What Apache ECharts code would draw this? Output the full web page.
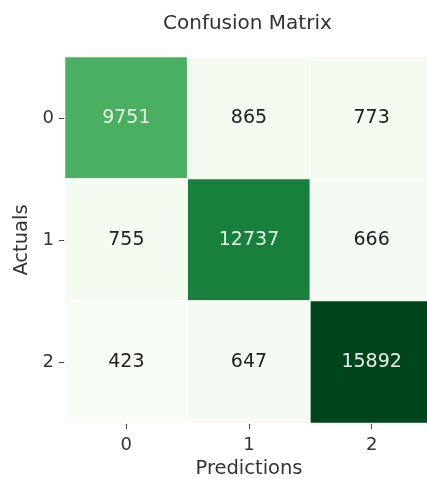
<!DOCTYPE html>
<html>
<head>
<meta charset="utf-8">
<script src="https://cdn.jsdelivr.net/npm/echarts@6/dist/echarts.min.js"></script>
<style>
  html, body { margin: 0; padding: 0; background: #ffffff; }
  #chart { width: 427px; height: 484px; }
</style>
</head>
<body>
<div id="chart"></div>
<script>
// Class labels for predicted (columns) and actual (rows) classes
const predictedLabels = ['0', '1', '2'];
const actualLabels = ['0', '1', '2'];

// Counts per actual class, listed by predicted class
const actual0 = [9751, 865, 773];
const actual1 = [755, 12737, 666];
const actual2 = [423, 647, 15892];

// Sequential green palette for the cell colours
const greens = ['#f7fcf5', '#e5f5e0', '#c7e9c0', '#a1d99b', '#74c476',
                '#41ab5d', '#238b45', '#006d2c', '#00441b'];

const rows = [actual0, actual1, actual2];
const cells = [];
rows.forEach((row, r) => row.forEach((v, c) => cells.push([c, r, v])));
const all = rows.flat();
const vMin = Math.min(...all);
const vMax = Math.max(...all);
const mid = (vMin + vMax) / 2;

const font = 'DejaVu Sans';
const chart = echarts.init(document.getElementById('chart'), null, { renderer: 'canvas' });

chart.setOption({
  backgroundColor: '#ffffff',
  animation: false,
  title: {
    text: 'Confusion Matrix',
    left: 163,
    top: 14,
    padding: 0,
    textStyle: { fontFamily: font, fontSize: 20, fontWeight: 'normal', color: '#333333' }
  },
  // the plot area runs slightly past the right edge of the canvas
  grid: { left: 65, width: 368, top: 57, height: 366, outerBoundsMode: 'none', containLabel: false },
  xAxis: {
    type: 'category',
    data: predictedLabels,
    name: 'Predictions',
    nameLocation: 'middle',
    nameGap: 33,
    nameTextStyle: { fontFamily: font, fontSize: 19.5, color: '#333333' },
    axisLine: { show: false },
    axisTick: { show: true, alignWithLabel: true, length: 6, lineStyle: { color: '#444444', width: 1 } },
    axisLabel: { fontFamily: font, fontSize: 18, color: '#333333', margin: 13 },
    splitLine: { show: false }
  },
  yAxis: {
    type: 'category',
    data: actualLabels,
    inverse: true,
    name: 'Actuals',
    nameLocation: 'middle',
    nameGap: 30,
    nameRotate: 90,
    nameTextStyle: { fontFamily: font, fontSize: 19.5, color: '#333333' },
    axisLine: { show: false },
    axisTick: { show: true, alignWithLabel: true, length: 6, lineStyle: { color: '#444444', width: 1 } },
    axisLabel: { fontFamily: font, fontSize: 18, color: '#333333', margin: 11 },
    splitLine: { show: false }
  },
  visualMap: {
    show: false,
    min: vMin,
    max: vMax,
    dimension: 2,
    inRange: { color: greens }
  },
  series: [{
    type: 'heatmap',
    // light annotation text on dark cells, dark text on pale cells
    data: cells.map(d => ({
      value: d,
      label: { color: d[2] > mid ? '#e8f0e8' : '#222222' }
    })),
    itemStyle: { borderColor: '#ffffff', borderWidth: 1 },
    label: {
      show: true,
      fontFamily: font,
      fontSize: 19,
      formatter: p => String(p.value[2])
    }
  }]
});
</script>
</body>
</html>
